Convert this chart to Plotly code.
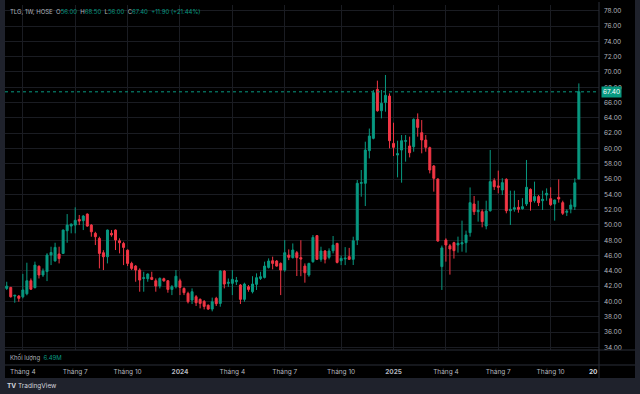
import pandas as pd
import plotly.graph_objects as go

# ---------------- data (weekly TLG, HOSE) ----------------
first_week = "2023-03-06"
opens = [41.70, 41.83, 40.70, 40.70, 40.60, 41.00, 42.70, 41.80, 44.60, 43.45,
         43.90, 46.06, 45.30, 46.20, 46.28, 49.24, 49.85, 49.98, 50.72, 50.55,
         51.42, 49.98, 48.90, 48.24, 46.37, 45.84, 48.90, 49.33, 47.93, 47.58,
         46.70, 44.97, 44.62, 44.10, 43.00, 42.97, 43.14, 42.70, 42.01, 42.97,
         42.70, 41.57, 41.92, 42.70, 41.70, 41.05, 40.18, 40.61, 40.27, 40.00,
         39.50, 39.00, 40.40, 39.74, 43.97, 42.36, 42.36, 42.57, 42.14, 40.27,
         41.92, 41.27, 42.23, 43.00, 43.14, 44.45, 45.32, 45.28, 44.97, 44.10,
         46.06, 45.72, 46.37, 45.72, 44.62, 43.45, 45.19, 48.60, 45.50, 46.59,
         45.76, 46.63, 47.58, 45.32, 45.55, 45.85, 45.50, 48.03, 55.44, 55.44,
         59.71, 61.32, 67.72, 64.93, 66.02, 66.85, 60.66, 59.14, 59.79, 60.93,
         60.32, 60.23, 63.80, 62.06, 61.10, 60.10, 57.70, 56.00, 44.55, 48.03,
         47.27, 47.68, 47.38, 47.51, 47.68, 48.99, 52.74, 51.73, 51.73, 49.86,
         51.86, 55.79, 55.10, 54.57, 55.96, 51.86, 52.06, 52.30, 52.12, 52.74,
         54.65, 53.17, 53.70, 53.17, 53.91, 53.43, 52.74, 53.61, 52.91, 51.65,
         52.08, 52.39, 56.00]
highs = [42.57, 41.90, 40.85, 40.83, 43.60, 45.06, 43.00, 45.20, 44.70, 44.30,
         46.30, 47.15, 47.67, 47.15, 49.40, 51.42, 50.20, 52.30, 51.30, 51.30,
         51.50, 50.10, 49.10, 48.46, 46.70, 49.40, 49.33, 49.40, 48.24, 47.80,
         46.80, 45.19, 44.75, 44.32, 43.88, 43.67, 43.88, 43.00, 43.14, 43.10,
         42.79, 42.14, 44.10, 42.97, 41.83, 41.27, 41.70, 40.83, 40.40, 40.18,
         39.60, 40.50, 40.60, 44.10, 44.10, 43.00, 44.10, 43.20, 42.27, 42.45,
         42.14, 43.30, 43.67, 43.88, 45.20, 45.63, 45.85, 45.40, 45.10, 48.02,
         46.80, 47.58, 46.60, 48.00, 44.97, 45.05, 48.68, 48.68, 47.15, 46.72,
         46.94, 48.55, 47.67, 46.00, 47.10, 47.00, 48.46, 55.87, 57.18, 60.88,
         62.60, 67.64, 68.86, 67.64, 69.60, 67.20, 63.36, 61.01, 61.75, 61.75,
         61.54, 63.93, 64.58, 63.71, 61.75, 60.23, 57.83, 56.09, 47.30, 48.25,
         47.50, 47.80, 48.47, 50.56, 49.25, 54.90, 53.78, 53.17, 52.04, 53.17,
         59.80, 56.10, 57.10, 56.10, 56.10, 54.48, 54.48, 53.26, 53.50, 58.49,
         54.78, 55.66, 53.91, 54.48, 54.78, 54.92, 53.30, 55.96, 53.17, 52.04,
         53.35, 56.09, 68.50]
lows = [41.49, 40.50, 39.83, 39.96, 40.40, 40.80, 41.50, 41.70, 43.00, 43.20,
        42.66, 44.75, 45.19, 44.97, 46.20, 47.67, 48.90, 48.90, 49.98, 49.33,
        49.76, 48.46, 47.37, 44.32, 44.10, 44.97, 48.46, 46.72, 46.28, 44.75,
        44.62, 44.10, 42.57, 41.27, 41.27, 42.57, 42.79, 41.27, 41.70, 42.57,
        41.14, 40.83, 41.70, 40.83, 40.83, 39.74, 39.66, 39.40, 39.09, 38.96,
        38.90, 38.70, 39.40, 39.31, 41.70, 41.90, 40.83, 42.14, 39.66, 39.96,
        41.27, 41.05, 41.50, 42.80, 43.00, 44.30, 44.19, 44.55, 40.83, 43.88,
        45.40, 45.60, 43.32, 43.30, 42.45, 43.23, 45.06, 45.41, 45.19, 44.97,
        45.50, 46.28, 44.97, 44.75, 44.75, 45.41, 44.76, 47.37, 53.69, 52.47,
        58.70, 61.19, 64.80, 63.93, 64.80, 60.01, 59.01, 56.22, 55.52, 58.27,
        58.83, 59.57, 61.54, 59.36, 59.57, 56.74, 54.35, 47.81, 41.50, 45.20,
        43.50, 45.60, 46.38, 46.50, 46.38, 48.47, 51.30, 50.43, 49.69, 49.43,
        51.73, 54.57, 54.13, 53.91, 51.52, 49.99, 51.73, 51.60, 52.00, 52.48,
        51.86, 52.91, 52.47, 51.95, 53.17, 52.48, 50.56, 52.91, 51.30, 51.17,
        51.52, 51.95, 56.00]
closes = [42.00, 40.61, 40.80, 40.40, 41.50, 42.70, 41.60, 44.75, 43.45, 43.97,
          46.06, 46.40, 47.06, 45.60, 49.33, 49.98, 50.10, 50.60, 50.50, 51.16,
          49.85, 49.10, 48.46, 46.28, 45.84, 49.33, 48.70, 48.02, 47.67, 47.06,
          44.97, 44.32, 44.10, 42.79, 43.10, 43.58, 42.88, 42.01, 43.01, 42.70,
          41.57, 41.92, 43.30, 41.83, 41.14, 39.96, 41.27, 39.83, 39.74, 39.35,
          39.00, 39.96, 39.70, 43.97, 42.27, 42.50, 42.88, 42.75, 40.27, 42.27,
          41.57, 42.27, 43.10, 43.23, 44.62, 45.28, 44.97, 44.62, 44.10, 46.37,
          45.76, 46.72, 45.72, 45.54, 43.75, 44.97, 48.37, 45.50, 46.59, 45.50,
          46.59, 47.37, 45.10, 45.63, 45.65, 45.50, 47.94, 55.44, 55.53, 59.79,
          61.62, 67.29, 64.93, 65.89, 66.94, 61.01, 60.14, 59.32, 61.01, 61.01,
          59.44, 63.80, 62.75, 61.10, 60.14, 57.18, 56.09, 47.90, 47.00, 47.38,
          46.85, 46.64, 47.60, 47.68, 48.69, 52.91, 51.73, 51.90, 50.43, 51.82,
          55.66, 55.00, 54.92, 55.53, 51.86, 52.04, 52.25, 52.04, 52.39, 54.92,
          53.04, 53.70, 52.91, 53.35, 54.13, 52.65, 53.26, 53.39, 51.52, 51.78,
          52.60, 55.50, 67.40]

tick_dates = ["2023-04-03", "2023-07-03", "2023-10-02", "2024-01-01", "2024-04-01",
              "2024-07-01", "2024-10-07", "2025-01-06", "2025-04-07", "2025-07-07",
              "2025-10-06"]
tick_labels = ["Tháng 4", "Tháng 7", "Tháng 10", "<b>2024</b>", "Tháng 4", "Tháng 7",
               "Tháng 10", "<b>2025</b>", "Tháng 4", "Tháng 7", "Tháng 10"]

symbol = "TLG, 1W, HOSE"
last_o, last_h, last_l, last_c = 56.00, 68.50, 56.00, 67.40
change, change_pct = 11.90, 21.44
volume_text = "6.49M"

dates = pd.date_range(first_week, periods=len(closes), freq="7D")

# ---------------- style ----------------
GREEN = "#089981"
RED = "#f23645"
GRID = "#1a1c22"
TXT = "#b2b5be"
FRAME = "#1f222c"
SEP = "#2a2e39"
FONT = "Inter, Roboto, sans-serif"

W, H = 640, 394
L, R, T, B = 5, 41, 5, 44
PW, PH = W - L - R, H - T - B


def px(x):
    return (x - L) / PW


def py(y):
    return (H - B - y) / PH


fig = go.Figure(go.Candlestick(
    x=dates, open=opens, high=highs, low=lows, close=closes,
    increasing=dict(line=dict(color=GREEN, width=1), fillcolor=GREEN),
    decreasing=dict(line=dict(color=RED, width=1), fillcolor=RED),
    whiskerwidth=0, showlegend=False, hoverinfo="skip",
))

shapes = [
    # black chart panel on navy frame
    dict(type="rect", xref="paper", yref="paper", x0=px(5), x1=px(635), y0=py(378), y1=py(0),
         fillcolor="#000000", line=dict(width=0), layer="below"),
    # pane separators
    dict(type="line", xref="paper", yref="paper", x0=px(5), x1=px(635), y0=py(350), y1=py(350),
         line=dict(color=SEP, width=1)),
    dict(type="line", xref="paper", yref="paper", x0=px(5), x1=px(635), y0=py(365), y1=py(365),
         line=dict(color=SEP, width=1)),
    dict(type="line", xref="paper", yref="paper", x0=px(599), x1=px(599), y0=py(378), y1=py(2),
         line=dict(color=SEP, width=1)),
    # last price line
    dict(type="line", xref="paper", yref="y", x0=0, x1=1, y0=last_c, y1=last_c,
         line=dict(color=GREEN, width=1, dash="dot")),
]

ohlc = (f'<span style="color:{TXT}">{symbol}&nbsp; O</span><span style="color:{GREEN}">{last_o:.2f}</span>'
        f'<span style="color:{TXT}">&nbsp; H</span><span style="color:{GREEN}">{last_h:.2f}</span>'
        f'<span style="color:{TXT}">&nbsp; L</span><span style="color:{GREEN}">{last_l:.2f}</span>'
        f'<span style="color:{TXT}">&nbsp; C</span><span style="color:{GREEN}">{last_c:.2f}</span>'
        f'<span style="color:{GREEN}">&nbsp; +{change:.2f} (+{change_pct:.2f}%)</span>')

annotations = [
    dict(xref="paper", yref="paper", x=px(8), y=py(12), text=ohlc, showarrow=False,
         xanchor="left", yanchor="middle", font=dict(size=6, color=TXT)),
    dict(xref="paper", yref="paper", x=px(8), y=py(357),
         text=f'<span style="color:{TXT}">Khối lượng</span>&nbsp; <span style="color:{GREEN}">{volume_text}</span>',
         showarrow=False, xanchor="left", yanchor="middle", font=dict(size=6, color=TXT)),
    dict(xref="paper", yref="y", x=1, y=last_c, text=f"{last_c:.2f}", showarrow=False,
         xanchor="left", yanchor="middle", xshift=2, bgcolor=GREEN, borderpad=1,
         font=dict(size=6.5, color="#ffffff")),
    dict(xref="paper", yref="paper", x=px(600), y=py(372), text="<b>20</b>", showarrow=False,
         xanchor="right", yanchor="middle", font=dict(size=6.5, color="#d1d4dc")),
    dict(xref="paper", yref="paper", x=px(5), y=py(386),
         text='<b>TV</b> TradingView', showarrow=False,
         xanchor="left", yanchor="middle", font=dict(size=6.5, color="#d1d4dc")),
]

fig.update_layout(
    width=W, height=H,
    margin=dict(l=L, r=R, t=T, b=B, pad=0),
    paper_bgcolor=FRAME, plot_bgcolor="#000000",
    font=dict(family=FONT, size=6.5, color=TXT),
    shapes=shapes, annotations=annotations,
    showlegend=False,
    xaxis=dict(
        type="date", range=["2023-03-03", "2025-12-29"],
        rangeslider=dict(visible=False),
        tickmode="array", tickvals=tick_dates, ticktext=tick_labels,
        showgrid=True, gridcolor=GRID, gridwidth=1,
        showline=False, zeroline=False, ticks="",
        ticklabelstandoff=16,
        tickfont=dict(size=6.5, color=TXT),
    ),
    yaxis=dict(
        side="right", range=[33.65, 78.75],
        tick0=0, dtick=2, tickformat=".2f",
        showgrid=True, gridcolor=GRID, gridwidth=1,
        zeroline=False, showline=False, ticks="",
        ticklabelstandoff=4,
        tickfont=dict(size=6.5, color=TXT),
    ),
)

fig.write_html(
    "out.html",
    config={"displayModeBar": False},
    post_script="document.body.style.margin='0';document.body.style.background='" + FRAME + "';",
)
